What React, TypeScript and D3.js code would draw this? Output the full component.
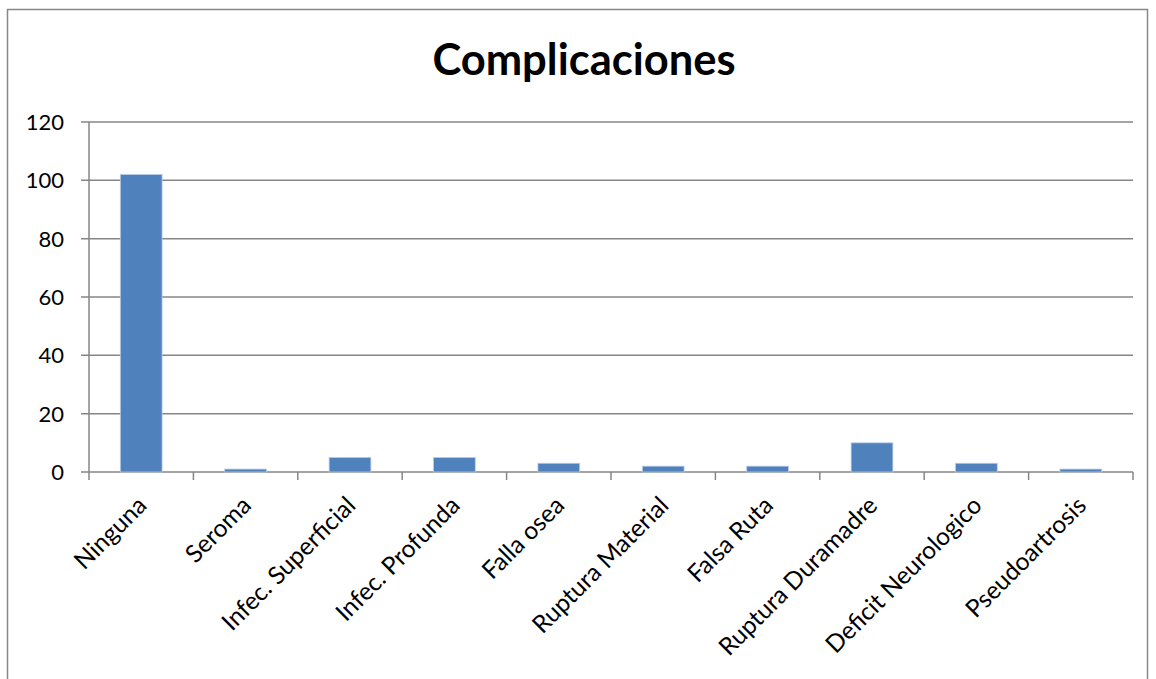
import React from "react";
import * as d3 from "d3";

const categories = [
  "Ninguna",
  "Seroma",
  "Infec. Superficial",
  "Infec. Profunda",
  "Falla osea",
  "Ruptura Material",
  "Falsa Ruta",
  "Ruptura Duramadre",
  "Deficit Neurologico",
  "Pseudoartrosis",
];
const values = [102, 1, 5, 5, 3, 2, 2, 10, 3, 1];
const yTicks = [0, 20, 40, 60, 80, 100, 120];
const title = "Complicaciones";

const W = 1156;
const H = 679;
const left = 89;
const right = 1133;
const top = 122;
const bottom = 472;
const FONT = "Lato, 'Open Sans', sans-serif";

export default function App() {
  const x = d3.scaleBand<string>().domain(categories).range([left, right]).paddingInner(0).paddingOuter(0);
  const y = d3.scaleLinear().domain([0, 120]).range([bottom, top]);
  const bw = x.bandwidth() / 2.5;
  const grid = "#868686";

  return (
    <svg width={W} height={H} style={{ position: "absolute", left: 0, top: 0, background: "#fff" }}>
      <rect x={7.5} y={9.5} width={1140} height={700} fill="#fff" stroke="#888" strokeWidth={1.5} />
      <text x={584} y={75} textAnchor="middle" fontFamily={FONT} fontWeight="bold" fontSize={43.5} fill="#000">
        {title}
      </text>
      {yTicks.map((t) => (
        <g key={t}>
          <line x1={81} x2={right} y1={y(t)} y2={y(t)} stroke={grid} strokeWidth={1.5} />
          <text x={64} y={y(t)} dy="0.36em" textAnchor="end" fontFamily={FONT} fontSize={22} fill="#000">
            {t}
          </text>
        </g>
      ))}
      <line x1={left} x2={left} y1={top} y2={bottom + 8} stroke={grid} strokeWidth={1.5} />
      {categories.map((c, i) => (
        <line key={"t" + i} x1={x(c)! + x.bandwidth()} x2={x(c)! + x.bandwidth()} y1={bottom} y2={bottom + 8} stroke={grid} strokeWidth={1.5} />
      ))}
      {categories.map((c, i) => {
        const cx = x(c)! + x.bandwidth() / 2;
        return (
          <rect
            key={"b" + i}
            x={cx - bw / 2}
            y={y(values[i])}
            width={bw}
            height={bottom - y(values[i])}
            fill="#4F81BD"
            stroke="#B9CDE5"
            strokeWidth={0.8}
          />
        );
      })}
      {categories.map((c, i) => {
        const cx = x(c)! + x.bandwidth() / 2;
        return (
          <text
            key={"l" + i}
            transform={`translate(${cx - 6},${bottom + 22}) rotate(-45)`}
            textAnchor="end"
            dy="0.75em"
            fontFamily={FONT}
            fontSize={24.5}
            fill="#000"
          >
            {c}
          </text>
        );
      })}
    </svg>
  );
}
